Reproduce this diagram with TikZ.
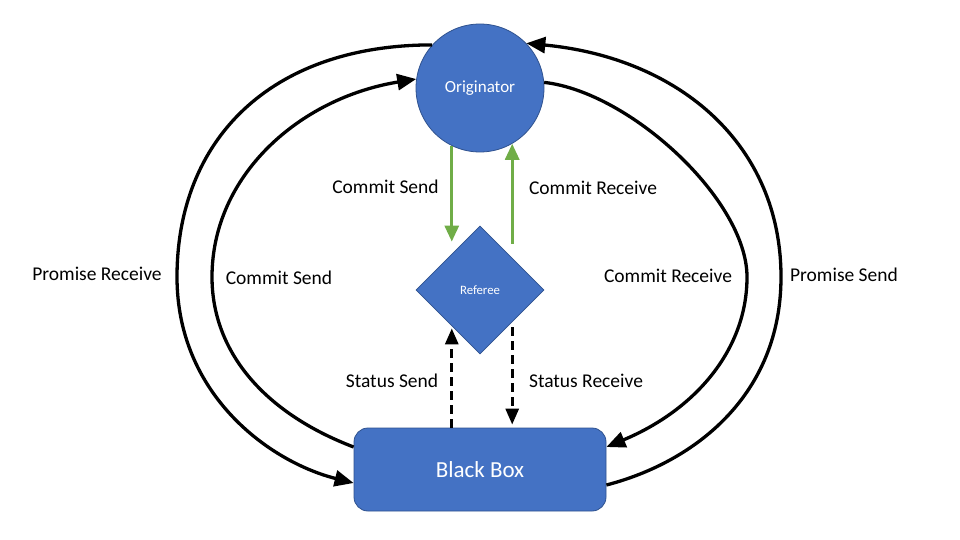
\documentclass[tikz,border=0pt]{standalone}
\usepackage{fontspec}
\setmainfont{Carlito}
\usetikzlibrary{arrows.meta,shapes.geometric,calc}
\definecolor{boxblue}{HTML}{4472C4}
\definecolor{boxedge}{HTML}{2F528F}
\definecolor{arrgreen}{HTML}{70AD47}
\tikzset{
  blueshape/.style={fill=boxblue,draw=boxedge,line width=0.8pt,text=white,inner sep=0pt},
  flow/.style={line width=3.3pt,-{Triangle[length=19pt,width=16pt]}},
  greenflow/.style={line width=3pt,draw=arrgreen,-{Triangle[length=16pt,width=14pt]},color=arrgreen},
  dashflow/.style={line width=3pt,dash pattern=on 9pt off 5pt,-{Triangle[length=16pt,width=13pt]}},
  lbl/.style={font=\fontsize{19.5}{23}\selectfont,inner sep=0pt}
}
\begin{document}
\begin{tikzpicture}[x=1pt,y=-1pt]
\useasboundingbox (0,0) rectangle (960,540);
\fill[white] (0,0) rectangle (960,540);
% nodes
\node[blueshape,circle,minimum size=128pt,font=\fontsize{17}{20}\selectfont] (orig) at (480,88) {Originator};
\node[blueshape,diamond,aspect=1,minimum width=128pt,minimum height=128pt,font=\fontsize{12.8}{15}\selectfont] (ref) at (480,290) {Referee};
\node[blueshape,rectangle,rounded corners=14pt,minimum width=252pt,minimum height=83pt,font=\fontsize{23}{27}\selectfont] (bb) at (480,469.5) {Black Box};
% outer left: Promise Receive
\draw[flow] (orig.138) .. controls (270,45) and (177,140) .. (177,277)
  .. controls (177,395) and (270,462) .. ([yshift=-13.5pt]bb.west);
% inner left: Commit Send
\draw[flow] ([yshift=22.5pt]bb.west) .. controls (262,412) and (212,350) .. (212,277)
  .. controls (212,175) and (300,98) .. (orig.172);
% outer right: Promise Send
\draw[flow] ([yshift=-15.5pt]bb.east) .. controls (695,462) and (781,395) .. (781,277)
  .. controls (781,145) and (680,58) .. (orig.44);
% inner right: Commit Receive
\draw[flow] (orig.5) .. controls (630,92) and (747,200) .. (747,277)
  .. controls (747,350) and (695,410) .. ([yshift=22.5pt]bb.east);
% green arrows
\draw[greenflow] (orig.244) -- ($(orig.244 |- ref.north)+(0,16)$);
\draw[greenflow] ($(orig.300 |- ref.north)+(0,18)$) -- (orig.300);
% dashed arrows
\draw[dashflow] (bb.north -| orig.244) -- ($(orig.244 |- ref.south)+(0,-26)$);
\draw[dashflow] ($(orig.300 |- ref.south)+(0,-27)$) -- ($(orig.300 |- bb.north)+(0,-3)$);
% labels
\node[lbl] (l1) at (385.5,187) {Commit Send};
\node[lbl] (l2) at (593,188) {Commit Receive};
\node[lbl] (l3) at (97,274) {Promise Receive};
\node[lbl] (l4) at (279,278) {Commit Send};
\node[lbl] (l5) at (668,276) {Commit Receive};
\node[lbl] (l6) at (844,275) {Promise Send};
\node[lbl] (l7) at (392,381) {Status Send};
\node[lbl] (l8) at (586,381) {Status Receive};
\end{tikzpicture}
\end{document}
